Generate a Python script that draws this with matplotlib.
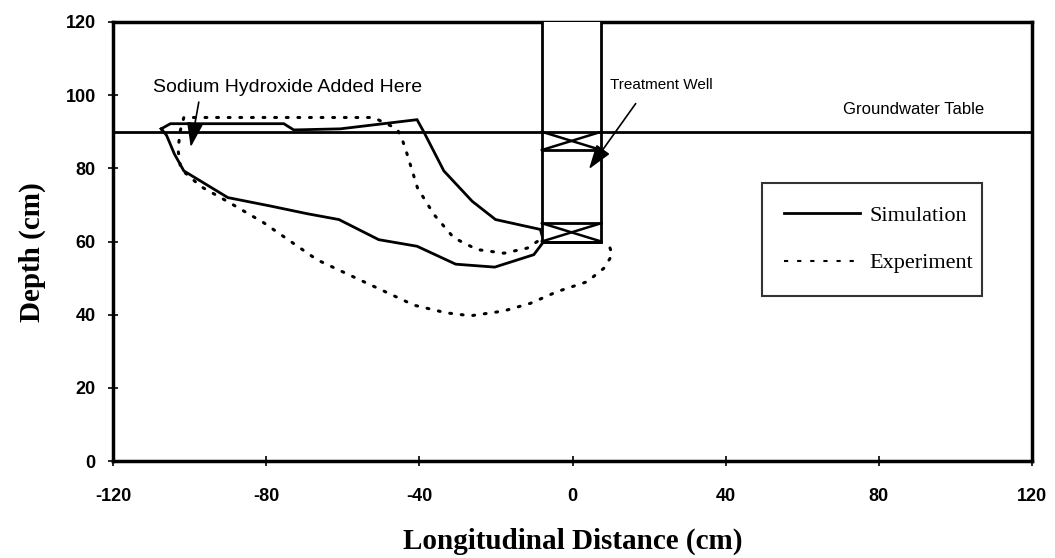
import matplotlib
matplotlib.use("Agg")
import matplotlib.pyplot as plt
from matplotlib.lines import Line2D

plt.rcParams["axes.unicode_minus"] = False

# ---------------- data ----------------
sim_x = [-107.4, -105, -75.4, -72.8, -60.6, -40.6, -38.8, -33.6, -26.2, -20.1, -8.4,
         -7.5, -10.1, -20.3, -30.5, -40.6, -50.6, -61, -69.3, -78.9, -90, -101.5, -104, -106, -107.4]
sim_y = [90.8, 92.2, 92.2, 90.5, 90.8, 93.3, 89.9, 79.3, 71, 66, 63.3,
         60, 56.4, 53, 53.8, 58.7, 60.5, 66, 67.6, 69.7, 72, 79.3, 84, 89, 90.8]

exp_x = [-9.2, -11.8, -17.9, -24.9, -31, -36.2, -40.5, -43.2, -44.5, -45.8, -52, -75, -101.5,
         -102.5, -103, -102.3, -97, -90.2, -80.6, -66.7, -54.5, -41.4, -33, -26.6, -18, -11, -4,
         3.8, 8.2, 10.4, 9.5]
exp_y = [60, 58.2, 56.8, 57.8, 61, 67.4, 74.7, 83.9, 88, 90.8, 93.9, 93.9, 93.9,
         90, 85, 79.8, 75, 71, 65.1, 55, 49, 42.6, 40.5, 39.7, 41, 43.1, 46.3,
         49, 52.7, 56.4, 59.1]

groundwater = 90
well_left, well_right = -8.0, 7.5
well_bottom, well_top = 60, 120
screens = [(85, 90), (60, 65)]

xticks = [-120, -80, -40, 0, 40, 80, 120]
yticks = [0, 20, 40, 60, 80, 100, 120]

# ---------------- figure ----------------
fig = plt.figure(figsize=(10.55, 5.58), dpi=100)
ax = fig.add_axes([113/1055, 1-461/558, (1032-113)/1055, (461-22)/558])
ax.set_xlim(-120, 120)
ax.set_ylim(0, 120)

ax.plot(sim_x, sim_y, color="black", lw=2.0, solid_joinstyle="miter", zorder=3)
ax.plot(exp_x, exp_y, color="black", lw=2.2,
        linestyle=(0, (0.6, 3.2)), dash_capstyle="round", zorder=3)

# groundwater table
ax.axhline(groundwater, color="black", lw=2, zorder=4)

# treatment well
ax.fill_between([well_left, well_right], well_bottom, well_top, color="white", zorder=5)
ax.plot([well_left, well_left, well_right, well_right],
        [well_top, well_bottom, well_bottom, well_top], color="black", lw=2, zorder=6)
for lo, hi in screens:
    ax.plot([well_left, well_right], [lo, lo], color="black", lw=2, zorder=6)
    ax.plot([well_left, well_right], [hi, hi], color="black", lw=2, zorder=6)
    ax.plot([well_left, well_right], [lo, hi], color="black", lw=1.8, zorder=6)
    ax.plot([well_left, well_right], [hi, lo], color="black", lw=1.8, zorder=6)

# annotations
ax.text(-109.6, 102.0, "Sodium Hydroxide Added Here", ha="left", va="center",
        family="Liberation Sans", fontsize=14)
ax.text(9.8, 102.8, "Treatment Well", ha="left", va="center",
        family="Liberation Sans", fontsize=11)
ax.text(70.6, 96.0, "Groundwater Table", ha="left", va="center",
        family="Liberation Sans", fontsize=12)

arrowprops = dict(arrowstyle="-|>,head_length=1.5,head_width=0.5", color="black", lw=1.2,
                  shrinkA=0, shrinkB=0)
ax.annotate("", xy=(-99.7, 85.8), xytext=(-97.6, 98.1), arrowprops=arrowprops, zorder=7)
ax.annotate("", xy=(4.3, 79.8), xytext=(16.5, 97.7), arrowprops=arrowprops, zorder=7)

# axes styling
for s in ax.spines.values():
    s.set_linewidth(2.5)
ax.set_xticks(xticks)
ax.set_yticks(yticks)
ax.tick_params(direction="inout", length=7, width=1.2)
ax.tick_params(axis="x", pad=16)
ax.tick_params(axis="y", pad=9)
for lab in ax.get_xticklabels() + ax.get_yticklabels():
    lab.set_family("Liberation Sans")
    lab.set_fontweight("bold")
    lab.set_fontsize(13)

ax.set_xlabel("Longitudinal Distance (cm)", family="Liberation Serif", fontweight="bold",
              fontsize=21, va="baseline")
ax.xaxis.set_label_coords(0.5, (461-549)/439)
ax.set_ylabel("Depth (cm)", family="Liberation Serif", fontweight="bold",
              fontsize=21, va="center")
ax.yaxis.set_label_coords((32-113)/919, (461-252)/439)

handles = [Line2D([], [], color="black", lw=2),
           Line2D([], [], color="black", lw=1.5, linestyle=(0, (2, 4.3)))]
leg = ax.legend(handles, ["Simulation", "Experiment"], loc="center",
                bbox_to_anchor=((762-113)/919, (461-297)/439, 220/919, 115/439), mode="expand",
                prop=dict(family="Liberation Serif", size=16), frameon=True, fancybox=False,
                handlelength=3.4, labelspacing=1.2, borderpad=1.0, handletextpad=0.45,
                borderaxespad=0)
leg.get_frame().set_edgecolor("black")
leg.get_frame().set_linewidth(1.5)

fig.savefig("out.png", dpi=100)
